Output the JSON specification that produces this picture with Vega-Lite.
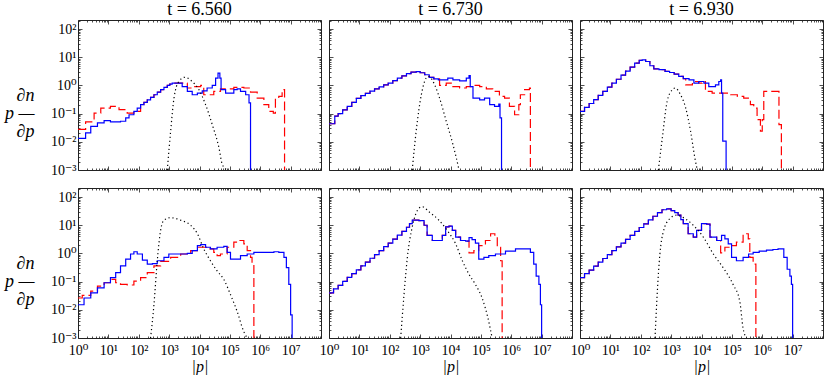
{
"$schema":"https://vega.github.io/schema/vega-lite/v6.json",
"padding":{"left":3,"right":4,"top":0,"bottom":0},
"config":{
 "view":{"stroke":"#222","strokeWidth":1},
 "font":"Liberation Serif, DejaVu Serif, serif",
 "axis":{"labelFont":"Liberation Serif, DejaVu Serif, serif","labelFontSize":14,"labelColor":"#000","titleFont":"Liberation Serif, DejaVu Serif, serif","titleFontWeight":"normal","titleColor":"#000","labelFlush":false,"labelOverlap":false,"grid":false,"domain":false},
 "title":{"font":"Liberation Serif, DejaVu Serif, serif","fontSize":18,"fontWeight":"normal","color":"#000","anchor":"middle","offset":1}
},
"datasets":{
"A_blue":[{"p":1,"y":0.0132},{"p":1.78,"y":0.0209},{"p":2.63,"y":0.0355},{"p":4.37,"y":0.0468},{"p":7.24,"y":0.0562},{"p":11.7,"y":0.0513},{"p":17.4,"y":0.0513},{"p":25.1,"y":0.0537},{"p":37.2,"y":0.0708},{"p":47.9,"y":0.0912},{"p":69.2,"y":0.12},{"p":89.1,"y":0.158},{"p":115,"y":0.209},{"p":148,"y":0.251},{"p":191,"y":0.309},{"p":245,"y":0.38},{"p":316,"y":0.468},{"p":407,"y":0.575},{"p":525,"y":0.708},{"p":676,"y":0.851},{"p":871,"y":1.0},{"p":1047,"y":1.12},{"p":1259,"y":1.2},{"p":1862,"y":1.2},{"p":2692,"y":0.912},{"p":3981,"y":0.617},{"p":5754,"y":0.468},{"p":8511,"y":0.537},{"p":12300,"y":0.646},{"p":17780,"y":0.813},{"p":26300,"y":1.0},{"p":33900,"y":1.82},{"p":40700,"y":2.75},{"p":46800,"y":1.82},{"p":51300,"y":0.708},{"p":72400,"y":0.537},{"p":104700,"y":0.537},{"p":134900,"y":0.708},{"p":173800,"y":0.759},{"p":223900,"y":0.617},{"p":331100,"y":0.468},{"p":426600,"y":0.24},{"p":478600,"y":0.0001}],
"A_red":[{"p":1,"y":0.0275},{"p":1.78,"y":0.0513},{"p":3.39,"y":0.105},{"p":5.62,"y":0.158},{"p":11.7,"y":0.182},{"p":22.4,"y":0.138},{"p":41.7,"y":0.105},{"p":69.2,"y":0.12},{"p":115,"y":0.209},{"p":148,"y":0.251},{"p":191,"y":0.309},{"p":245,"y":0.38},{"p":316,"y":0.468},{"p":407,"y":0.575},{"p":525,"y":0.708},{"p":676,"y":0.851},{"p":871,"y":1.0},{"p":1047,"y":1.12},{"p":1259,"y":1.2},{"p":1862,"y":1.2},{"p":3981,"y":0.813},{"p":6607,"y":0.912},{"p":10960,"y":1.0},{"p":13800,"y":0.468},{"p":20400,"y":0.468},{"p":29500,"y":0.617},{"p":49000,"y":0.759},{"p":134900,"y":0.851},{"p":288400,"y":0.813},{"p":478600,"y":0.575},{"p":794300,"y":0.355},{"p":1318000,"y":0.209},{"p":1905000,"y":0.12},{"p":2690000,"y":0.105},{"p":3160000,"y":0.355},{"p":4070000,"y":0.407},{"p":5250000,"y":0.708},{"p":6310000,"y":0.0001}],
"A_black":[{"p":871,"y":0.001},{"p":1122,"y":0.024},{"p":1445,"y":0.355},{"p":2089,"y":1.38},{"p":3311,"y":1.95},{"p":5754,"y":1.38},{"p":9550,"y":0.708},{"p":15850,"y":0.209},{"p":26300,"y":0.0407},{"p":43650,"y":0.00617},{"p":56230,"y":0.00158},{"p":81280,"y":0.001}],
"B_blue":[{"p":1,"y":0.0437},{"p":1.55,"y":0.0813},{"p":2.0,"y":0.1},{"p":2.82,"y":0.135},{"p":3.98,"y":0.182},{"p":5.62,"y":0.251},{"p":7.94,"y":0.347},{"p":11.2,"y":0.437},{"p":15.8,"y":0.525},{"p":22.4,"y":0.631},{"p":31.6,"y":0.759},{"p":44.7,"y":0.891},{"p":63.1,"y":1.05},{"p":89.1,"y":1.2},{"p":126,"y":1.48},{"p":178,"y":1.82},{"p":251,"y":2.19},{"p":355,"y":2.63},{"p":501,"y":2.95},{"p":741,"y":3.09},{"p":1000,"y":2.82},{"p":1413,"y":2.4},{"p":1995,"y":1.95},{"p":2818,"y":1.7},{"p":3981,"y":1.58},{"p":5623,"y":1.58},{"p":8128,"y":1.82},{"p":12020,"y":1.58},{"p":19950,"y":1.45},{"p":33110,"y":1.82},{"p":40740,"y":2.24},{"p":44670,"y":0.912},{"p":54950,"y":0.355},{"p":91200,"y":0.309},{"p":131800,"y":0.355},{"p":195000,"y":0.209},{"p":281800,"y":0.182},{"p":389000,"y":0.219},{"p":426600,"y":0.0708},{"p":478600,"y":0.0001}],
"B_red":[{"p":1,"y":0.0437},{"p":1.55,"y":0.0813},{"p":2.0,"y":0.1},{"p":2.82,"y":0.135},{"p":3.98,"y":0.182},{"p":5.62,"y":0.251},{"p":7.94,"y":0.347},{"p":11.2,"y":0.437},{"p":15.8,"y":0.525},{"p":22.4,"y":0.631},{"p":31.6,"y":0.759},{"p":44.7,"y":0.891},{"p":63.1,"y":1.05},{"p":89.1,"y":1.2},{"p":126,"y":1.48},{"p":178,"y":1.82},{"p":251,"y":2.19},{"p":355,"y":2.63},{"p":501,"y":2.95},{"p":741,"y":3.09},{"p":1000,"y":2.82},{"p":1413,"y":2.4},{"p":1995,"y":1.95},{"p":2818,"y":1.7},{"p":4365,"y":1.0},{"p":7244,"y":1.2},{"p":12020,"y":0.912},{"p":19950,"y":0.813},{"p":33110,"y":0.912},{"p":54950,"y":1.0},{"p":91200,"y":0.912},{"p":151400,"y":0.759},{"p":245500,"y":0.617},{"p":407400,"y":0.407},{"p":602600,"y":0.355},{"p":871000,"y":0.182},{"p":1288000,"y":0.0912},{"p":1778000,"y":0.209},{"p":1995000,"y":0.468},{"p":2754000,"y":0.708},{"p":3981000,"y":0.813},{"p":4266000,"y":0.0001}],
"B_black":[{"p":550,"y":0.001},{"p":741,"y":0.024},{"p":1096,"y":0.468},{"p":1585,"y":1.82},{"p":1950,"y":2.09},{"p":3020,"y":1.05},{"p":4365,"y":0.355},{"p":7244,"y":0.0537},{"p":12020,"y":0.00813},{"p":17380,"y":0.00158},{"p":19050,"y":0.001}],
"C_blue":[{"p":1,"y":0.12},{"p":1.41,"y":0.166},{"p":2.0,"y":0.229},{"p":2.82,"y":0.316},{"p":3.98,"y":0.447},{"p":5.62,"y":0.617},{"p":7.94,"y":0.871},{"p":11.2,"y":1.2},{"p":15.8,"y":1.66},{"p":22.4,"y":2.34},{"p":31.6,"y":3.24},{"p":44.7,"y":4.47},{"p":63.1,"y":6.17},{"p":89.1,"y":7.76},{"p":112,"y":8.13},{"p":145,"y":7.08},{"p":200,"y":5.01},{"p":269,"y":3.89},{"p":398,"y":3.63},{"p":631,"y":3.16},{"p":891,"y":2.88},{"p":1259,"y":2.51},{"p":1778,"y":2.09},{"p":2512,"y":1.74},{"p":3890,"y":1.58},{"p":5623,"y":1.2},{"p":8128,"y":1.38},{"p":12020,"y":1.2},{"p":17380,"y":0.912},{"p":28840,"y":1.05},{"p":37150,"y":1.38},{"p":42660,"y":1.58},{"p":45710,"y":0.537},{"p":50120,"y":0.0105},{"p":64570,"y":0.0001}],
"C_red":[{"p":1,"y":0.12},{"p":1.41,"y":0.166},{"p":2.0,"y":0.229},{"p":2.82,"y":0.316},{"p":3.98,"y":0.447},{"p":5.62,"y":0.617},{"p":7.94,"y":0.871},{"p":11.2,"y":1.2},{"p":15.8,"y":1.66},{"p":22.4,"y":2.34},{"p":31.6,"y":3.24},{"p":44.7,"y":4.47},{"p":63.1,"y":6.17},{"p":89.1,"y":7.76},{"p":112,"y":8.13},{"p":145,"y":7.08},{"p":200,"y":5.01},{"p":269,"y":3.89},{"p":398,"y":3.63},{"p":631,"y":3.16},{"p":891,"y":2.88},{"p":1259,"y":2.51},{"p":1778,"y":2.09},{"p":2512,"y":1.74},{"p":3020,"y":1.05},{"p":5012,"y":1.38},{"p":8128,"y":1.2},{"p":10470,"y":1.38},{"p":13490,"y":0.617},{"p":22390,"y":0.537},{"p":47860,"y":0.537},{"p":91200,"y":0.468},{"p":151400,"y":0.407},{"p":245500,"y":0.355},{"p":407400,"y":0.209},{"p":524800,"y":0.158},{"p":676100,"y":0.0617},{"p":871000,"y":0.024},{"p":1000000,"y":0.0617},{"p":1122000,"y":0.617},{"p":3548000,"y":0.0407},{"p":4266000,"y":0.0001}],
"C_black":[{"p":380,"y":0.001},{"p":513,"y":0.0138},{"p":741,"y":0.275},{"p":1096,"y":0.708},{"p":1349,"y":0.813},{"p":2042,"y":0.468},{"p":3020,"y":0.158},{"p":4365,"y":0.024},{"p":6026,"y":0.00275},{"p":7244,"y":0.001}],
"D_blue":[{"p":1,"y":0.0151},{"p":1.58,"y":0.0263},{"p":2.63,"y":0.0398},{"p":4.37,"y":0.0603},{"p":7.24,"y":0.0912},{"p":11.7,"y":0.138},{"p":17.4,"y":0.209},{"p":25.1,"y":0.363},{"p":37.2,"y":0.631},{"p":53.7,"y":0.955},{"p":69.2,"y":1.15},{"p":89.1,"y":0.955},{"p":132,"y":0.575},{"p":191,"y":0.417},{"p":282,"y":0.437},{"p":407,"y":0.55},{"p":676,"y":0.724},{"p":977,"y":0.955},{"p":1862,"y":0.955},{"p":3981,"y":1.0},{"p":5754,"y":1.26},{"p":8511,"y":1.91},{"p":10960,"y":2.04},{"p":15850,"y":1.66},{"p":22910,"y":1.45},{"p":38020,"y":1.66},{"p":63100,"y":1.78},{"p":81280,"y":1.1},{"p":104700,"y":0.631},{"p":154900,"y":0.631},{"p":223900,"y":0.832},{"p":371500,"y":0.955},{"p":616600,"y":1.1},{"p":1318000,"y":1.1},{"p":2818000,"y":1.15},{"p":4074000,"y":1.1},{"p":6026000,"y":0.724},{"p":7244000,"y":0.316},{"p":8710000,"y":0.0794},{"p":10000000,"y":0.0066},{"p":11220000,"y":0.0001}],
"D_red":[{"p":1,"y":0.0263},{"p":1.38,"y":0.0324},{"p":2.63,"y":0.0457},{"p":4.37,"y":0.0692},{"p":7.24,"y":0.0912},{"p":11.7,"y":0.12},{"p":17.4,"y":0.0912},{"p":25.1,"y":0.0794},{"p":41.7,"y":0.0759},{"p":69.2,"y":0.105},{"p":115,"y":0.138},{"p":191,"y":0.209},{"p":316,"y":0.363},{"p":525,"y":0.525},{"p":1122,"y":0.724},{"p":2399,"y":0.955},{"p":5129,"y":1.26},{"p":8511,"y":1.66},{"p":17780,"y":1.45},{"p":29510,"y":1.1},{"p":38020,"y":0.832},{"p":48980,"y":0.955},{"p":81280,"y":1.66},{"p":134900,"y":2.51},{"p":199500,"y":2.88},{"p":288400,"y":2.19},{"p":371500,"y":1.26},{"p":478600,"y":0.724},{"p":537000,"y":0.417},{"p":616600,"y":0.0001}],
"D_black":[{"p":245,"y":0.001},{"p":316,"y":0.0151},{"p":407,"y":0.55},{"p":525,"y":6.61},{"p":676,"y":15.1},{"p":1122,"y":18.6},{"p":2399,"y":15.1},{"p":5129,"y":10.0},{"p":8511,"y":5.01},{"p":13800,"y":1.45},{"p":22910,"y":0.55},{"p":38020,"y":0.24},{"p":63100,"y":0.12},{"p":104700,"y":0.0347},{"p":173800,"y":0.0087},{"p":288400,"y":0.00166},{"p":371500,"y":0.001}],
"E_blue":[{"p":1,"y":0.0398},{"p":1.41,"y":0.055},{"p":2.0,"y":0.0741},{"p":2.82,"y":0.102},{"p":3.98,"y":0.141},{"p":5.62,"y":0.191},{"p":7.94,"y":0.263},{"p":11.2,"y":0.363},{"p":15.8,"y":0.49},{"p":22.4,"y":0.676},{"p":31.6,"y":0.912},{"p":44.7,"y":1.26},{"p":63.1,"y":1.74},{"p":89.1,"y":2.34},{"p":126,"y":3.24},{"p":178,"y":4.47},{"p":251,"y":6.03},{"p":355,"y":8.51},{"p":447,"y":11.5},{"p":550,"y":15.1},{"p":912,"y":14.5},{"p":1349,"y":10.0},{"p":1698,"y":4.37},{"p":2512,"y":2.88},{"p":3631,"y":2.88},{"p":5370,"y":4.37},{"p":6918,"y":8.71},{"p":8913,"y":9.33},{"p":11480,"y":6.61},{"p":14790,"y":3.8},{"p":21380,"y":2.88},{"p":31620,"y":2.75},{"p":40740,"y":3.63},{"p":51290,"y":3.09},{"p":66070,"y":2.34},{"p":85110,"y":0.631},{"p":125900,"y":0.724},{"p":182000,"y":0.832},{"p":302000,"y":0.955},{"p":645700,"y":1.2},{"p":1380000,"y":1.45},{"p":2951000,"y":1.45},{"p":4266000,"y":1.1},{"p":5495000,"y":0.417},{"p":6607000,"y":0.158},{"p":8128000,"y":0.0794},{"p":9120000,"y":0.0151},{"p":10000000,"y":0.0001}],
"E_red":[{"p":1,"y":0.0398},{"p":1.41,"y":0.055},{"p":2.0,"y":0.0741},{"p":2.82,"y":0.102},{"p":3.98,"y":0.141},{"p":5.62,"y":0.191},{"p":7.94,"y":0.263},{"p":11.2,"y":0.363},{"p":15.8,"y":0.49},{"p":22.4,"y":0.676},{"p":31.6,"y":0.912},{"p":44.7,"y":1.26},{"p":63.1,"y":1.74},{"p":89.1,"y":2.34},{"p":126,"y":3.24},{"p":178,"y":4.47},{"p":251,"y":6.03},{"p":355,"y":8.51},{"p":447,"y":11.5},{"p":550,"y":15.1},{"p":912,"y":14.5},{"p":1349,"y":10.0},{"p":1698,"y":4.37},{"p":2512,"y":2.88},{"p":3631,"y":2.88},{"p":5370,"y":4.37},{"p":6918,"y":8.71},{"p":8913,"y":9.33},{"p":11480,"y":6.61},{"p":14790,"y":3.8},{"p":21380,"y":2.88},{"p":31620,"y":2.75},{"p":40740,"y":1.05},{"p":58880,"y":1.26},{"p":85110,"y":1.91},{"p":141300,"y":2.88},{"p":208900,"y":5.01},{"p":288400,"y":3.8},{"p":346700,"y":1.66},{"p":446700,"y":0.55},{"p":501200,"y":0.0001}],
"E_black":[{"p":229,"y":0.001},{"p":295,"y":0.0347},{"p":380,"y":0.724},{"p":550,"y":8.71},{"p":912,"y":39.8},{"p":1175,"y":45.7},{"p":1950,"y":30.2},{"p":4169,"y":15.1},{"p":7762,"y":6.61},{"p":14790,"y":2.19},{"p":24550,"y":0.55},{"p":40740,"y":0.182},{"p":66070,"y":0.0794},{"p":109600,"y":0.0263},{"p":182000,"y":0.0038},{"p":234400,"y":0.001}],
"F_blue":[{"p":1,"y":0.138},{"p":1.41,"y":0.191},{"p":2.0,"y":0.257},{"p":2.82,"y":0.355},{"p":3.98,"y":0.49},{"p":5.62,"y":0.661},{"p":7.94,"y":0.912},{"p":11.2,"y":1.26},{"p":15.8,"y":1.7},{"p":22.4,"y":2.34},{"p":31.6,"y":3.16},{"p":44.7,"y":4.37},{"p":63.1,"y":6.03},{"p":89.1,"y":8.32},{"p":126,"y":11.2},{"p":178,"y":15.5},{"p":251,"y":20.9},{"p":355,"y":28.2},{"p":501,"y":35.5},{"p":708,"y":38.0},{"p":1000,"y":33.1},{"p":1318,"y":28.2},{"p":1698,"y":22.9},{"p":2089,"y":15.8},{"p":2512,"y":11.5},{"p":3631,"y":5.01},{"p":5370,"y":3.8},{"p":6918,"y":6.61},{"p":10000,"y":11.5},{"p":14790,"y":11.0},{"p":19050,"y":3.8},{"p":31620,"y":2.88},{"p":45710,"y":4.37},{"p":58880,"y":3.31},{"p":75860,"y":2.19},{"p":97720,"y":0.724},{"p":141300,"y":0.55},{"p":234400,"y":0.724},{"p":354800,"y":0.955},{"p":501200,"y":1.1},{"p":794300,"y":1.2},{"p":1380000,"y":1.32},{"p":2239000,"y":1.38},{"p":3311000,"y":1.45},{"p":4677000,"y":1.45},{"p":5129000,"y":0.724},{"p":6607000,"y":0.275},{"p":8128000,"y":0.158},{"p":9120000,"y":0.0794},{"p":10000000,"y":0.0001}],
"F_red":[{"p":1,"y":0.138},{"p":1.41,"y":0.191},{"p":2.0,"y":0.257},{"p":2.82,"y":0.355},{"p":3.98,"y":0.49},{"p":5.62,"y":0.661},{"p":7.94,"y":0.912},{"p":11.2,"y":1.26},{"p":15.8,"y":1.7},{"p":22.4,"y":2.34},{"p":31.6,"y":3.16},{"p":44.7,"y":4.37},{"p":63.1,"y":6.03},{"p":89.1,"y":8.32},{"p":126,"y":11.2},{"p":178,"y":15.5},{"p":251,"y":20.9},{"p":355,"y":28.2},{"p":501,"y":35.5},{"p":708,"y":38.0},{"p":1000,"y":33.1},{"p":1318,"y":28.2},{"p":1698,"y":22.9},{"p":2089,"y":15.8},{"p":2512,"y":11.5},{"p":3631,"y":5.01},{"p":5370,"y":3.8},{"p":6918,"y":6.61},{"p":10000,"y":11.5},{"p":14790,"y":11.0},{"p":19050,"y":3.8},{"p":31620,"y":2.88},{"p":42660,"y":1.05},{"p":58880,"y":1.66},{"p":85110,"y":1.91},{"p":141300,"y":2.51},{"p":234400,"y":5.01},{"p":346700,"y":3.31},{"p":389000,"y":0.724},{"p":501200,"y":0.417},{"p":616600,"y":0.0001}],
"F_black":[{"p":295,"y":0.001},{"p":347,"y":0.0347},{"p":427,"y":0.955},{"p":550,"y":5.75},{"p":912,"y":17.4},{"p":1514,"y":22.9},{"p":2818,"y":17.4},{"p":5370,"y":10.0},{"p":11480,"y":3.8},{"p":24550,"y":0.955},{"p":51290,"y":0.316},{"p":109600,"y":0.0794},{"p":182000,"y":0.02},{"p":234400,"y":0.00219},{"p":302000,"y":0.001}]
},
"vconcat":[
{"hconcat":[
 {"width":243,"height":150,"title":{"text":"t = 6.560"},
  "layer":[
   {"data":{"name":"A_red"},"mark":{"type":"line","interpolate":"step-after","color":"#ff0000","strokeWidth":1.2,"strokeDash":[9,4],"clip":true},
    "encoding":{"x":{"field":"p","type":"quantitative","scale":{"type":"log","domain":[1,1e8]},"axis":{"orient":"bottom","values":[1,2,3,4,5,6,7,8,9,10,20,30,40,50,60,70,80,90,100,200,300,400,500,600,700,800,900,1e3,2e3,3e3,4e3,5e3,6e3,7e3,8e3,9e3,1e4,2e4,3e4,4e4,5e4,6e4,7e4,8e4,9e4,1e5,2e5,3e5,4e5,5e5,6e5,7e5,8e5,9e5,1e6,2e6,3e6,4e6,5e6,6e6,7e6,8e6,9e6,1e7,2e7,3e7,4e7,5e7,6e7,7e7,8e7,9e7,1e8],"labels":false,"title":null,"tickColor":"#222","tickWidth":0.8,"tickSize":{"condition":{"test":"abs(log(datum.value)/LN10-round(log(datum.value)/LN10))<0.001","value":-4},"value":-2}}},
     "y":{"field":"y","type":"quantitative","scale":{"type":"log","domain":[0.001,210]},"axis":{"orient":"left","values":[0.001,0.002,0.003,0.004,0.005,0.006,0.007,0.008,0.009,0.01,0.02,0.03,0.04,0.05,0.06,0.07,0.08,0.09,0.1,0.2,0.3,0.4,0.5,0.6,0.7,0.8,0.9,1,2,3,4,5,6,7,8,9,10,20,30,40,50,60,70,80,90,100,200],"labels":false,"title":null,"tickColor":"#222","tickWidth":0.8,"tickSize":{"condition":{"test":"abs(log(datum.value)/LN10-round(log(datum.value)/LN10))<0.001","value":-4},"value":-2}}}}},
   {"data":{"name":"A_blue"},"mark":{"type":"line","interpolate":"step-after","color":"#0000ff","strokeWidth":1.2,"clip":true},
    "encoding":{"x":{"field":"p","type":"quantitative","scale":{"type":"log","domain":[1,1e8]},"axis":{"orient":"top","values":[1,2,3,4,5,6,7,8,9,10,20,30,40,50,60,70,80,90,100,200,300,400,500,600,700,800,900,1e3,2e3,3e3,4e3,5e3,6e3,7e3,8e3,9e3,1e4,2e4,3e4,4e4,5e4,6e4,7e4,8e4,9e4,1e5,2e5,3e5,4e5,5e5,6e5,7e5,8e5,9e5,1e6,2e6,3e6,4e6,5e6,6e6,7e6,8e6,9e6,1e7,2e7,3e7,4e7,5e7,6e7,7e7,8e7,9e7,1e8],"labels":false,"title":null,"tickColor":"#222","tickWidth":0.8,"tickSize":{"condition":{"test":"abs(log(datum.value)/LN10-round(log(datum.value)/LN10))<0.001","value":-4},"value":-2}}},
     "y":{"field":"y","type":"quantitative","scale":{"type":"log","domain":[0.001,210]},"axis":{"orient":"right","values":[0.001,0.002,0.003,0.004,0.005,0.006,0.007,0.008,0.009,0.01,0.02,0.03,0.04,0.05,0.06,0.07,0.08,0.09,0.1,0.2,0.3,0.4,0.5,0.6,0.7,0.8,0.9,1,2,3,4,5,6,7,8,9,10,20,30,40,50,60,70,80,90,100,200],"labels":false,"title":null,"tickColor":"#222","tickWidth":0.8,"tickSize":{"condition":{"test":"abs(log(datum.value)/LN10-round(log(datum.value)/LN10))<0.001","value":-4},"value":-2}}}}},
   {"data":{"name":"A_black"},"mark":{"type":"line","interpolate":"monotone","color":"#000","strokeWidth":1.2,"strokeDash":[1.2,2.8],"clip":true},
    "encoding":{"x":{"field":"p","type":"quantitative","scale":{"type":"log","domain":[1,1e8]},"axis":null},
     "y":{"field":"y","type":"quantitative","scale":{"type":"log","domain":[0.001,210]},"axis":{"orient":"left","values":[0.001,0.01,0.1,1,10,100],"ticks":false,"labelPadding":2,"labelExpr":"['10⁻³','10⁻²','10⁻¹','10⁰','10¹','10²'][round(log(datum.value)/LN10)+3]","title":["∂n","p —","∂p"],"titleFontStyle":"italic","titleFontSize":18,"titleLineHeight":18,"titleAngle":0,"titleAlign":"right","titleBaseline":"middle","titleX":-44,"titleY":75}}}}
  ],
  "resolve":{"axis":{"x":"independent","y":"independent"}}},
 {"width":243,"height":150,"title":{"text":"t = 6.730"},
  "layer":[
   {"data":{"name":"B_red"},"mark":{"type":"line","interpolate":"step-after","color":"#ff0000","strokeWidth":1.2,"strokeDash":[9,4],"clip":true},
    "encoding":{"x":{"field":"p","type":"quantitative","scale":{"type":"log","domain":[1,1e8]},"axis":{"orient":"bottom","values":[1,2,3,4,5,6,7,8,9,10,20,30,40,50,60,70,80,90,100,200,300,400,500,600,700,800,900,1e3,2e3,3e3,4e3,5e3,6e3,7e3,8e3,9e3,1e4,2e4,3e4,4e4,5e4,6e4,7e4,8e4,9e4,1e5,2e5,3e5,4e5,5e5,6e5,7e5,8e5,9e5,1e6,2e6,3e6,4e6,5e6,6e6,7e6,8e6,9e6,1e7,2e7,3e7,4e7,5e7,6e7,7e7,8e7,9e7,1e8],"labels":false,"title":null,"tickColor":"#222","tickWidth":0.8,"tickSize":{"condition":{"test":"abs(log(datum.value)/LN10-round(log(datum.value)/LN10))<0.001","value":-4},"value":-2}}},
     "y":{"field":"y","type":"quantitative","scale":{"type":"log","domain":[0.001,210]},"axis":{"orient":"left","values":[0.001,0.002,0.003,0.004,0.005,0.006,0.007,0.008,0.009,0.01,0.02,0.03,0.04,0.05,0.06,0.07,0.08,0.09,0.1,0.2,0.3,0.4,0.5,0.6,0.7,0.8,0.9,1,2,3,4,5,6,7,8,9,10,20,30,40,50,60,70,80,90,100,200],"labels":false,"title":null,"tickColor":"#222","tickWidth":0.8,"tickSize":{"condition":{"test":"abs(log(datum.value)/LN10-round(log(datum.value)/LN10))<0.001","value":-4},"value":-2}}}}},
   {"data":{"name":"B_blue"},"mark":{"type":"line","interpolate":"step-after","color":"#0000ff","strokeWidth":1.2,"clip":true},
    "encoding":{"x":{"field":"p","type":"quantitative","scale":{"type":"log","domain":[1,1e8]},"axis":{"orient":"top","values":[1,2,3,4,5,6,7,8,9,10,20,30,40,50,60,70,80,90,100,200,300,400,500,600,700,800,900,1e3,2e3,3e3,4e3,5e3,6e3,7e3,8e3,9e3,1e4,2e4,3e4,4e4,5e4,6e4,7e4,8e4,9e4,1e5,2e5,3e5,4e5,5e5,6e5,7e5,8e5,9e5,1e6,2e6,3e6,4e6,5e6,6e6,7e6,8e6,9e6,1e7,2e7,3e7,4e7,5e7,6e7,7e7,8e7,9e7,1e8],"labels":false,"title":null,"tickColor":"#222","tickWidth":0.8,"tickSize":{"condition":{"test":"abs(log(datum.value)/LN10-round(log(datum.value)/LN10))<0.001","value":-4},"value":-2}}},
     "y":{"field":"y","type":"quantitative","scale":{"type":"log","domain":[0.001,210]},"axis":{"orient":"right","values":[0.001,0.002,0.003,0.004,0.005,0.006,0.007,0.008,0.009,0.01,0.02,0.03,0.04,0.05,0.06,0.07,0.08,0.09,0.1,0.2,0.3,0.4,0.5,0.6,0.7,0.8,0.9,1,2,3,4,5,6,7,8,9,10,20,30,40,50,60,70,80,90,100,200],"labels":false,"title":null,"tickColor":"#222","tickWidth":0.8,"tickSize":{"condition":{"test":"abs(log(datum.value)/LN10-round(log(datum.value)/LN10))<0.001","value":-4},"value":-2}}}}},
   {"data":{"name":"B_black"},"mark":{"type":"line","interpolate":"monotone","color":"#000","strokeWidth":1.2,"strokeDash":[1.2,2.8],"clip":true},
    "encoding":{"x":{"field":"p","type":"quantitative","scale":{"type":"log","domain":[1,1e8]},"axis":null},
     "y":{"field":"y","type":"quantitative","scale":{"type":"log","domain":[0.001,210]},"axis":null}}}
  ],
  "resolve":{"axis":{"x":"independent","y":"independent"}}},
 {"width":243,"height":150,"title":{"text":"t = 6.930"},
  "layer":[
   {"data":{"name":"C_red"},"mark":{"type":"line","interpolate":"step-after","color":"#ff0000","strokeWidth":1.2,"strokeDash":[9,4],"clip":true},
    "encoding":{"x":{"field":"p","type":"quantitative","scale":{"type":"log","domain":[1,1e8]},"axis":{"orient":"bottom","values":[1,2,3,4,5,6,7,8,9,10,20,30,40,50,60,70,80,90,100,200,300,400,500,600,700,800,900,1e3,2e3,3e3,4e3,5e3,6e3,7e3,8e3,9e3,1e4,2e4,3e4,4e4,5e4,6e4,7e4,8e4,9e4,1e5,2e5,3e5,4e5,5e5,6e5,7e5,8e5,9e5,1e6,2e6,3e6,4e6,5e6,6e6,7e6,8e6,9e6,1e7,2e7,3e7,4e7,5e7,6e7,7e7,8e7,9e7,1e8],"labels":false,"title":null,"tickColor":"#222","tickWidth":0.8,"tickSize":{"condition":{"test":"abs(log(datum.value)/LN10-round(log(datum.value)/LN10))<0.001","value":-4},"value":-2}}},
     "y":{"field":"y","type":"quantitative","scale":{"type":"log","domain":[0.001,210]},"axis":{"orient":"left","values":[0.001,0.002,0.003,0.004,0.005,0.006,0.007,0.008,0.009,0.01,0.02,0.03,0.04,0.05,0.06,0.07,0.08,0.09,0.1,0.2,0.3,0.4,0.5,0.6,0.7,0.8,0.9,1,2,3,4,5,6,7,8,9,10,20,30,40,50,60,70,80,90,100,200],"labels":false,"title":null,"tickColor":"#222","tickWidth":0.8,"tickSize":{"condition":{"test":"abs(log(datum.value)/LN10-round(log(datum.value)/LN10))<0.001","value":-4},"value":-2}}}}},
   {"data":{"name":"C_blue"},"mark":{"type":"line","interpolate":"step-after","color":"#0000ff","strokeWidth":1.2,"clip":true},
    "encoding":{"x":{"field":"p","type":"quantitative","scale":{"type":"log","domain":[1,1e8]},"axis":{"orient":"top","values":[1,2,3,4,5,6,7,8,9,10,20,30,40,50,60,70,80,90,100,200,300,400,500,600,700,800,900,1e3,2e3,3e3,4e3,5e3,6e3,7e3,8e3,9e3,1e4,2e4,3e4,4e4,5e4,6e4,7e4,8e4,9e4,1e5,2e5,3e5,4e5,5e5,6e5,7e5,8e5,9e5,1e6,2e6,3e6,4e6,5e6,6e6,7e6,8e6,9e6,1e7,2e7,3e7,4e7,5e7,6e7,7e7,8e7,9e7,1e8],"labels":false,"title":null,"tickColor":"#222","tickWidth":0.8,"tickSize":{"condition":{"test":"abs(log(datum.value)/LN10-round(log(datum.value)/LN10))<0.001","value":-4},"value":-2}}},
     "y":{"field":"y","type":"quantitative","scale":{"type":"log","domain":[0.001,210]},"axis":{"orient":"right","values":[0.001,0.002,0.003,0.004,0.005,0.006,0.007,0.008,0.009,0.01,0.02,0.03,0.04,0.05,0.06,0.07,0.08,0.09,0.1,0.2,0.3,0.4,0.5,0.6,0.7,0.8,0.9,1,2,3,4,5,6,7,8,9,10,20,30,40,50,60,70,80,90,100,200],"labels":false,"title":null,"tickColor":"#222","tickWidth":0.8,"tickSize":{"condition":{"test":"abs(log(datum.value)/LN10-round(log(datum.value)/LN10))<0.001","value":-4},"value":-2}}}}},
   {"data":{"name":"C_black"},"mark":{"type":"line","interpolate":"monotone","color":"#000","strokeWidth":1.2,"strokeDash":[1.2,2.8],"clip":true},
    "encoding":{"x":{"field":"p","type":"quantitative","scale":{"type":"log","domain":[1,1e8]},"axis":null},
     "y":{"field":"y","type":"quantitative","scale":{"type":"log","domain":[0.001,210]},"axis":null}}}
  ],
  "resolve":{"axis":{"x":"independent","y":"independent"}}}
 ],"spacing":8,"bounds":"flush"},
{"hconcat":[
 {"width":243,"height":150,
  "layer":[
   {"data":{"name":"D_red"},"mark":{"type":"line","interpolate":"step-after","color":"#ff0000","strokeWidth":1.2,"strokeDash":[9,4],"clip":true},
    "encoding":{"x":{"field":"p","type":"quantitative","scale":{"type":"log","domain":[1,1e8]},"axis":{"orient":"bottom","values":[1,2,3,4,5,6,7,8,9,10,20,30,40,50,60,70,80,90,100,200,300,400,500,600,700,800,900,1e3,2e3,3e3,4e3,5e3,6e3,7e3,8e3,9e3,1e4,2e4,3e4,4e4,5e4,6e4,7e4,8e4,9e4,1e5,2e5,3e5,4e5,5e5,6e5,7e5,8e5,9e5,1e6,2e6,3e6,4e6,5e6,6e6,7e6,8e6,9e6,1e7,2e7,3e7,4e7,5e7,6e7,7e7,8e7,9e7,1e8],"labels":false,"title":null,"tickColor":"#222","tickWidth":0.8,"tickSize":{"condition":{"test":"abs(log(datum.value)/LN10-round(log(datum.value)/LN10))<0.001","value":-4},"value":-2}}},
     "y":{"field":"y","type":"quantitative","scale":{"type":"log","domain":[0.001,210]},"axis":{"orient":"left","values":[0.001,0.002,0.003,0.004,0.005,0.006,0.007,0.008,0.009,0.01,0.02,0.03,0.04,0.05,0.06,0.07,0.08,0.09,0.1,0.2,0.3,0.4,0.5,0.6,0.7,0.8,0.9,1,2,3,4,5,6,7,8,9,10,20,30,40,50,60,70,80,90,100,200],"labels":false,"title":null,"tickColor":"#222","tickWidth":0.8,"tickSize":{"condition":{"test":"abs(log(datum.value)/LN10-round(log(datum.value)/LN10))<0.001","value":-4},"value":-2}}}}},
   {"data":{"name":"D_blue"},"mark":{"type":"line","interpolate":"step-after","color":"#0000ff","strokeWidth":1.2,"clip":true},
    "encoding":{"x":{"field":"p","type":"quantitative","scale":{"type":"log","domain":[1,1e8]},"axis":{"orient":"top","values":[1,2,3,4,5,6,7,8,9,10,20,30,40,50,60,70,80,90,100,200,300,400,500,600,700,800,900,1e3,2e3,3e3,4e3,5e3,6e3,7e3,8e3,9e3,1e4,2e4,3e4,4e4,5e4,6e4,7e4,8e4,9e4,1e5,2e5,3e5,4e5,5e5,6e5,7e5,8e5,9e5,1e6,2e6,3e6,4e6,5e6,6e6,7e6,8e6,9e6,1e7,2e7,3e7,4e7,5e7,6e7,7e7,8e7,9e7,1e8],"labels":false,"title":null,"tickColor":"#222","tickWidth":0.8,"tickSize":{"condition":{"test":"abs(log(datum.value)/LN10-round(log(datum.value)/LN10))<0.001","value":-4},"value":-2}}},
     "y":{"field":"y","type":"quantitative","scale":{"type":"log","domain":[0.001,210]},"axis":{"orient":"right","values":[0.001,0.002,0.003,0.004,0.005,0.006,0.007,0.008,0.009,0.01,0.02,0.03,0.04,0.05,0.06,0.07,0.08,0.09,0.1,0.2,0.3,0.4,0.5,0.6,0.7,0.8,0.9,1,2,3,4,5,6,7,8,9,10,20,30,40,50,60,70,80,90,100,200],"labels":false,"title":null,"tickColor":"#222","tickWidth":0.8,"tickSize":{"condition":{"test":"abs(log(datum.value)/LN10-round(log(datum.value)/LN10))<0.001","value":-4},"value":-2}}}}},
   {"data":{"name":"D_black"},"mark":{"type":"line","interpolate":"monotone","color":"#000","strokeWidth":1.2,"strokeDash":[1.2,2.8],"clip":true},
    "encoding":{"x":{"field":"p","type":"quantitative","scale":{"type":"log","domain":[1,1e8]},"axis":{"orient":"bottom","values":[1,10,100,1e3,1e4,1e5,1e6,1e7],"ticks":false,"labelPadding":5,"labelExpr":"['10⁰','10¹','10²','10³','10⁴','10⁵','10⁶','10⁷'][round(log(datum.value)/LN10)]","title":"|p|","titleFontStyle":"italic","titleFontSize":16,"titlePadding":1}},
     "y":{"field":"y","type":"quantitative","scale":{"type":"log","domain":[0.001,210]},"axis":{"orient":"left","values":[0.001,0.01,0.1,1,10,100],"ticks":false,"labelPadding":2,"labelExpr":"['10⁻³','10⁻²','10⁻¹','10⁰','10¹','10²'][round(log(datum.value)/LN10)+3]","title":["∂n","p —","∂p"],"titleFontStyle":"italic","titleFontSize":18,"titleLineHeight":18,"titleAngle":0,"titleAlign":"right","titleBaseline":"middle","titleX":-44,"titleY":75}}}}
  ],
  "resolve":{"axis":{"x":"independent","y":"independent"}}},
 {"width":243,"height":150,
  "layer":[
   {"data":{"name":"E_red"},"mark":{"type":"line","interpolate":"step-after","color":"#ff0000","strokeWidth":1.2,"strokeDash":[9,4],"clip":true},
    "encoding":{"x":{"field":"p","type":"quantitative","scale":{"type":"log","domain":[1,1e8]},"axis":{"orient":"bottom","values":[1,2,3,4,5,6,7,8,9,10,20,30,40,50,60,70,80,90,100,200,300,400,500,600,700,800,900,1e3,2e3,3e3,4e3,5e3,6e3,7e3,8e3,9e3,1e4,2e4,3e4,4e4,5e4,6e4,7e4,8e4,9e4,1e5,2e5,3e5,4e5,5e5,6e5,7e5,8e5,9e5,1e6,2e6,3e6,4e6,5e6,6e6,7e6,8e6,9e6,1e7,2e7,3e7,4e7,5e7,6e7,7e7,8e7,9e7,1e8],"labels":false,"title":null,"tickColor":"#222","tickWidth":0.8,"tickSize":{"condition":{"test":"abs(log(datum.value)/LN10-round(log(datum.value)/LN10))<0.001","value":-4},"value":-2}}},
     "y":{"field":"y","type":"quantitative","scale":{"type":"log","domain":[0.001,210]},"axis":{"orient":"left","values":[0.001,0.002,0.003,0.004,0.005,0.006,0.007,0.008,0.009,0.01,0.02,0.03,0.04,0.05,0.06,0.07,0.08,0.09,0.1,0.2,0.3,0.4,0.5,0.6,0.7,0.8,0.9,1,2,3,4,5,6,7,8,9,10,20,30,40,50,60,70,80,90,100,200],"labels":false,"title":null,"tickColor":"#222","tickWidth":0.8,"tickSize":{"condition":{"test":"abs(log(datum.value)/LN10-round(log(datum.value)/LN10))<0.001","value":-4},"value":-2}}}}},
   {"data":{"name":"E_blue"},"mark":{"type":"line","interpolate":"step-after","color":"#0000ff","strokeWidth":1.2,"clip":true},
    "encoding":{"x":{"field":"p","type":"quantitative","scale":{"type":"log","domain":[1,1e8]},"axis":{"orient":"top","values":[1,2,3,4,5,6,7,8,9,10,20,30,40,50,60,70,80,90,100,200,300,400,500,600,700,800,900,1e3,2e3,3e3,4e3,5e3,6e3,7e3,8e3,9e3,1e4,2e4,3e4,4e4,5e4,6e4,7e4,8e4,9e4,1e5,2e5,3e5,4e5,5e5,6e5,7e5,8e5,9e5,1e6,2e6,3e6,4e6,5e6,6e6,7e6,8e6,9e6,1e7,2e7,3e7,4e7,5e7,6e7,7e7,8e7,9e7,1e8],"labels":false,"title":null,"tickColor":"#222","tickWidth":0.8,"tickSize":{"condition":{"test":"abs(log(datum.value)/LN10-round(log(datum.value)/LN10))<0.001","value":-4},"value":-2}}},
     "y":{"field":"y","type":"quantitative","scale":{"type":"log","domain":[0.001,210]},"axis":{"orient":"right","values":[0.001,0.002,0.003,0.004,0.005,0.006,0.007,0.008,0.009,0.01,0.02,0.03,0.04,0.05,0.06,0.07,0.08,0.09,0.1,0.2,0.3,0.4,0.5,0.6,0.7,0.8,0.9,1,2,3,4,5,6,7,8,9,10,20,30,40,50,60,70,80,90,100,200],"labels":false,"title":null,"tickColor":"#222","tickWidth":0.8,"tickSize":{"condition":{"test":"abs(log(datum.value)/LN10-round(log(datum.value)/LN10))<0.001","value":-4},"value":-2}}}}},
   {"data":{"name":"E_black"},"mark":{"type":"line","interpolate":"monotone","color":"#000","strokeWidth":1.2,"strokeDash":[1.2,2.8],"clip":true},
    "encoding":{"x":{"field":"p","type":"quantitative","scale":{"type":"log","domain":[1,1e8]},"axis":{"orient":"bottom","values":[1,10,100,1e3,1e4,1e5,1e6,1e7],"ticks":false,"labelPadding":5,"labelExpr":"['10⁰','10¹','10²','10³','10⁴','10⁵','10⁶','10⁷'][round(log(datum.value)/LN10)]","title":"|p|","titleFontStyle":"italic","titleFontSize":16,"titlePadding":1}},
     "y":{"field":"y","type":"quantitative","scale":{"type":"log","domain":[0.001,210]},"axis":null}}}
  ],
  "resolve":{"axis":{"x":"independent","y":"independent"}}},
 {"width":243,"height":150,
  "layer":[
   {"data":{"name":"F_red"},"mark":{"type":"line","interpolate":"step-after","color":"#ff0000","strokeWidth":1.2,"strokeDash":[9,4],"clip":true},
    "encoding":{"x":{"field":"p","type":"quantitative","scale":{"type":"log","domain":[1,1e8]},"axis":{"orient":"bottom","values":[1,2,3,4,5,6,7,8,9,10,20,30,40,50,60,70,80,90,100,200,300,400,500,600,700,800,900,1e3,2e3,3e3,4e3,5e3,6e3,7e3,8e3,9e3,1e4,2e4,3e4,4e4,5e4,6e4,7e4,8e4,9e4,1e5,2e5,3e5,4e5,5e5,6e5,7e5,8e5,9e5,1e6,2e6,3e6,4e6,5e6,6e6,7e6,8e6,9e6,1e7,2e7,3e7,4e7,5e7,6e7,7e7,8e7,9e7,1e8],"labels":false,"title":null,"tickColor":"#222","tickWidth":0.8,"tickSize":{"condition":{"test":"abs(log(datum.value)/LN10-round(log(datum.value)/LN10))<0.001","value":-4},"value":-2}}},
     "y":{"field":"y","type":"quantitative","scale":{"type":"log","domain":[0.001,210]},"axis":{"orient":"left","values":[0.001,0.002,0.003,0.004,0.005,0.006,0.007,0.008,0.009,0.01,0.02,0.03,0.04,0.05,0.06,0.07,0.08,0.09,0.1,0.2,0.3,0.4,0.5,0.6,0.7,0.8,0.9,1,2,3,4,5,6,7,8,9,10,20,30,40,50,60,70,80,90,100,200],"labels":false,"title":null,"tickColor":"#222","tickWidth":0.8,"tickSize":{"condition":{"test":"abs(log(datum.value)/LN10-round(log(datum.value)/LN10))<0.001","value":-4},"value":-2}}}}},
   {"data":{"name":"F_blue"},"mark":{"type":"line","interpolate":"step-after","color":"#0000ff","strokeWidth":1.2,"clip":true},
    "encoding":{"x":{"field":"p","type":"quantitative","scale":{"type":"log","domain":[1,1e8]},"axis":{"orient":"top","values":[1,2,3,4,5,6,7,8,9,10,20,30,40,50,60,70,80,90,100,200,300,400,500,600,700,800,900,1e3,2e3,3e3,4e3,5e3,6e3,7e3,8e3,9e3,1e4,2e4,3e4,4e4,5e4,6e4,7e4,8e4,9e4,1e5,2e5,3e5,4e5,5e5,6e5,7e5,8e5,9e5,1e6,2e6,3e6,4e6,5e6,6e6,7e6,8e6,9e6,1e7,2e7,3e7,4e7,5e7,6e7,7e7,8e7,9e7,1e8],"labels":false,"title":null,"tickColor":"#222","tickWidth":0.8,"tickSize":{"condition":{"test":"abs(log(datum.value)/LN10-round(log(datum.value)/LN10))<0.001","value":-4},"value":-2}}},
     "y":{"field":"y","type":"quantitative","scale":{"type":"log","domain":[0.001,210]},"axis":{"orient":"right","values":[0.001,0.002,0.003,0.004,0.005,0.006,0.007,0.008,0.009,0.01,0.02,0.03,0.04,0.05,0.06,0.07,0.08,0.09,0.1,0.2,0.3,0.4,0.5,0.6,0.7,0.8,0.9,1,2,3,4,5,6,7,8,9,10,20,30,40,50,60,70,80,90,100,200],"labels":false,"title":null,"tickColor":"#222","tickWidth":0.8,"tickSize":{"condition":{"test":"abs(log(datum.value)/LN10-round(log(datum.value)/LN10))<0.001","value":-4},"value":-2}}}}},
   {"data":{"name":"F_black"},"mark":{"type":"line","interpolate":"monotone","color":"#000","strokeWidth":1.2,"strokeDash":[1.2,2.8],"clip":true},
    "encoding":{"x":{"field":"p","type":"quantitative","scale":{"type":"log","domain":[1,1e8]},"axis":{"orient":"bottom","values":[1,10,100,1e3,1e4,1e5,1e6,1e7],"ticks":false,"labelPadding":5,"labelExpr":"['10⁰','10¹','10²','10³','10⁴','10⁵','10⁶','10⁷'][round(log(datum.value)/LN10)]","title":"|p|","titleFontStyle":"italic","titleFontSize":16,"titlePadding":1}},
     "y":{"field":"y","type":"quantitative","scale":{"type":"log","domain":[0.001,210]},"axis":null}}}
  ],
  "resolve":{"axis":{"x":"independent","y":"independent"}}}
 ],"spacing":8,"bounds":"flush"}
],
"spacing":9
}
